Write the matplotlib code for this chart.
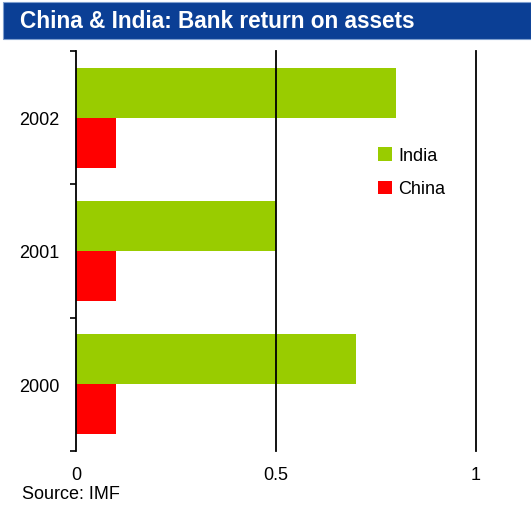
import numpy as np
import matplotlib.pyplot as plt
from matplotlib.patches import Rectangle

plt.rcParams['font.family'] = ['Liberation Sans', 'DejaVu Sans']

# Data
years = ["2000", "2001", "2002"]
india = [0.7, 0.5, 0.8]
china = [0.1, 0.1, 0.1]

green = "#99cc00"
red = "#ff0000"
blue = "#0b3f95"

fig = plt.figure(figsize=(5.31, 5.10), dpi=100)

# Title banner
fig.patches.append(Rectangle((3 / 531, 1 - 40 / 510), 528 / 531, 37 / 510,
                             transform=fig.transFigure, facecolor=blue,
                             edgecolor="#7f9fcf", linewidth=0.8))
fig.text(20 / 531, 1 - 21 / 510, "China & India: Bank return on assets",
         color="white", fontsize=16.3, fontweight="bold", va="center", ha="left")

ax = fig.add_axes([76 / 531, 1 - 452 / 510, 400 / 531, 400 / 510])

y = np.arange(len(years))
h = 0.375
ax.barh(y + h / 2, india, height=h, color=green, label="India")
ax.barh(y - h / 2, china, height=h, color=red, label="China")

ax.set_xlim(0, 1)
ax.set_ylim(-0.5, 2.5)
ax.set_xticks([0, 0.5, 1])
ax.set_xticklabels(["0", "0.5", "1"])
ax.tick_params(axis="x", length=0, pad=11, labelsize=13)

# category labels at centres, ticks at boundaries
ax.set_yticks([-0.5, 0.5, 1.5, 2.5])
ax.set_yticklabels([])
ax.set_yticks(y, minor=True)
ax.set_yticklabels(years, minor=True)
ax.tick_params(axis="y", which="major", length=4, width=1.2, direction="out")
ax.tick_params(axis="y", which="minor", length=0, pad=12, labelsize=13)

for v in [0.5, 1.0]:
    ax.axvline(v, color="black", linewidth=1.3, clip_on=False)

for s in ["top", "right", "bottom"]:
    ax.spines[s].set_visible(False)
ax.spines["left"].set_linewidth(1.3)

ax.legend(loc="upper left", bbox_to_anchor=(0.715, 0.80), frameon=False,
          fontsize=13, handlelength=0.75, handleheight=0.75, handletextpad=0.35,
          labelspacing=0.9)

fig.text(22 / 531, 1 - 495 / 510, "Source: IMF", fontsize=13, va="center", ha="left")

fig.savefig("out.png", dpi=100)
